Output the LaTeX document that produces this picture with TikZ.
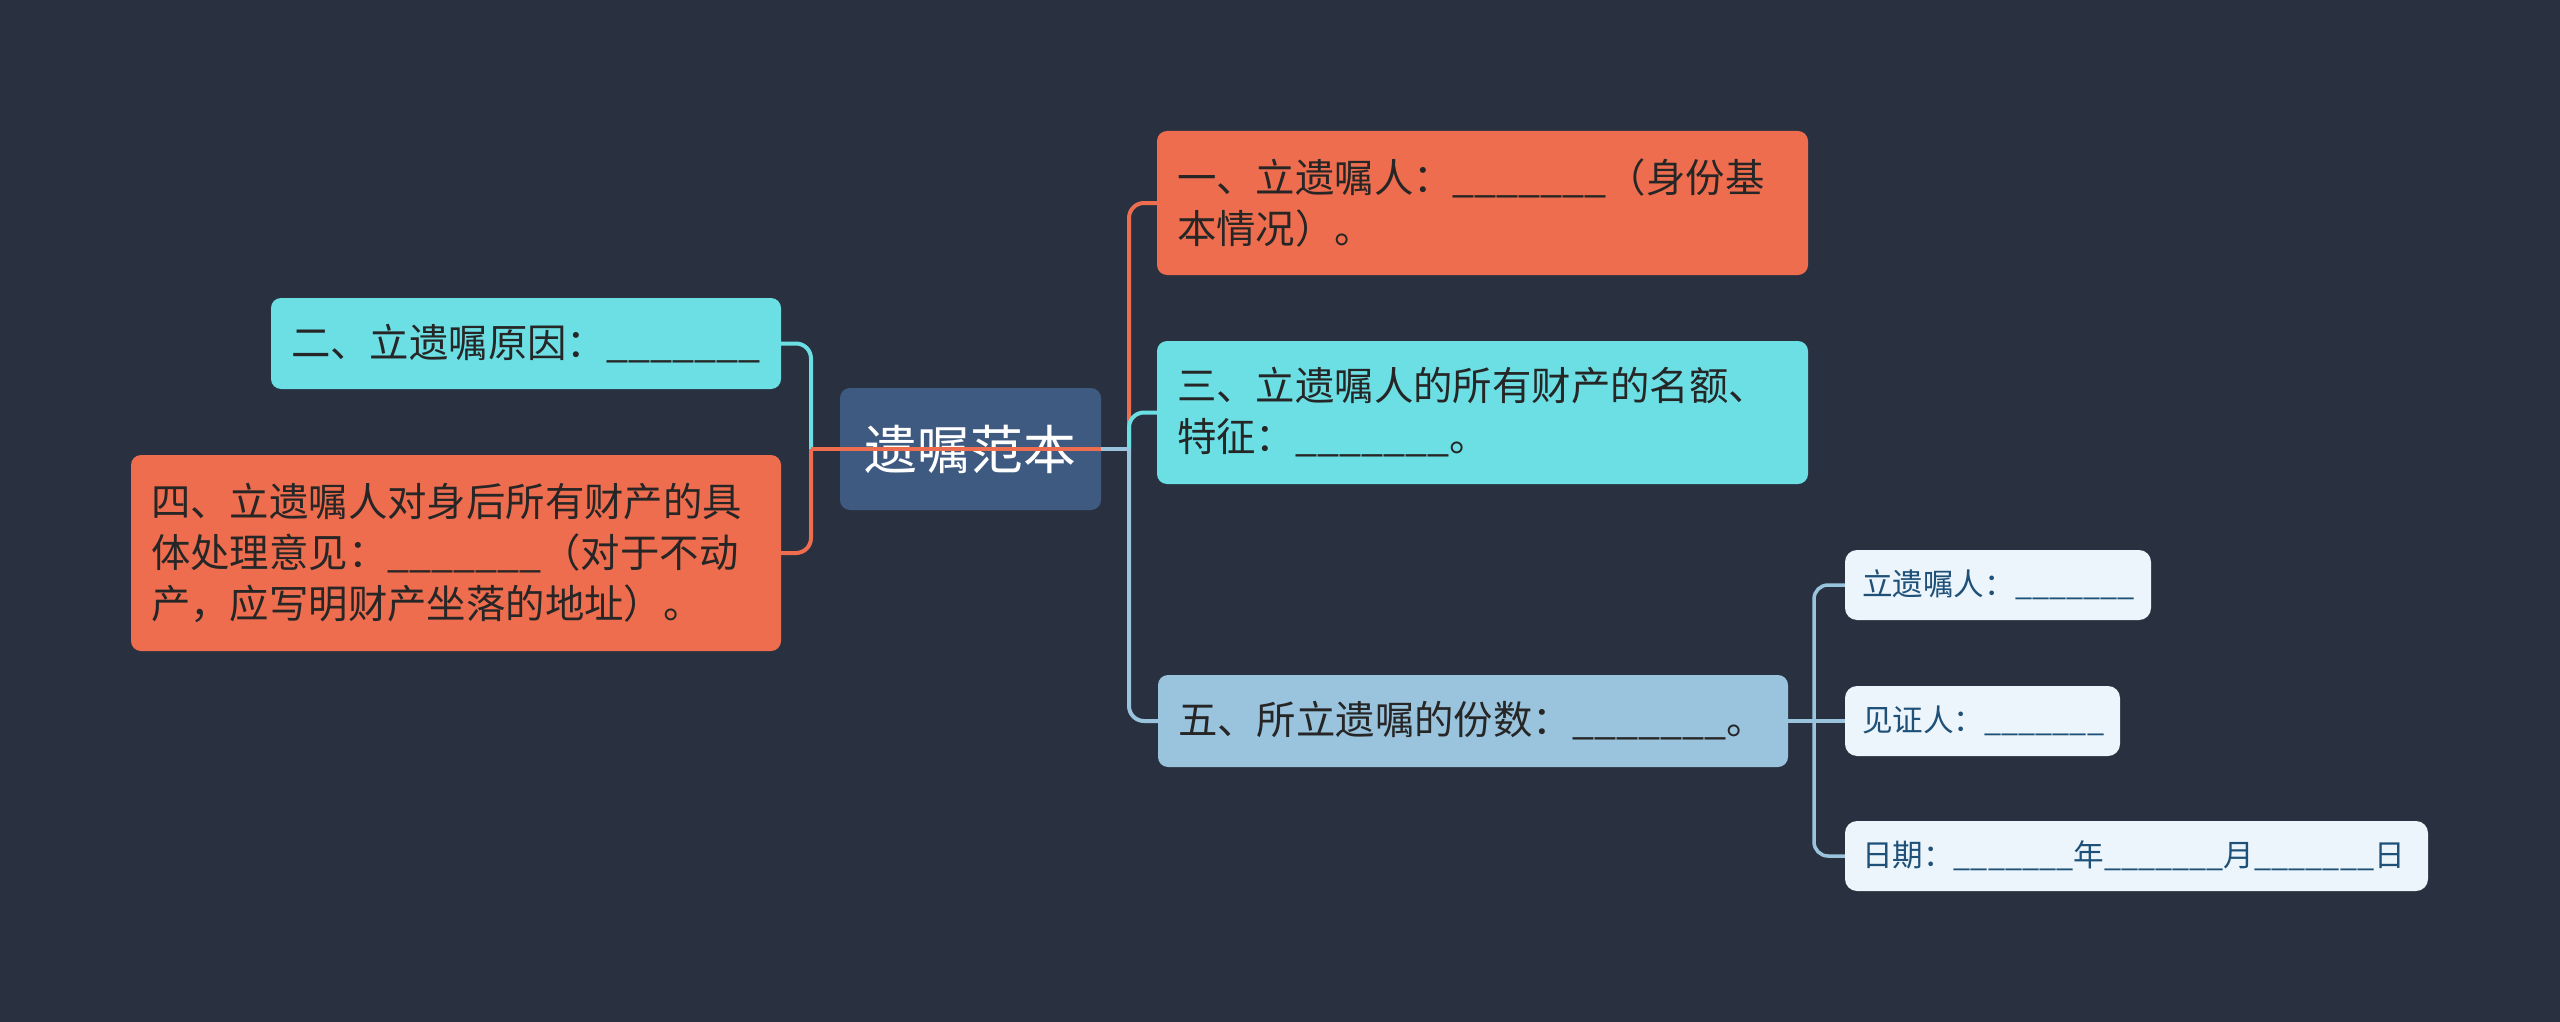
\documentclass[tikz,border=0pt]{standalone}
\usepackage{fontspec}
\setmainfont{Noto Sans CJK SC}
\definecolor{bgc}{HTML}{293140}
\definecolor{orc}{HTML}{EE6D4F}
\definecolor{cyc}{HTML}{6CDFE5}
\definecolor{rtc}{HTML}{3E5A80}
\definecolor{lbc}{HTML}{9AC3DD}
\definecolor{sbc}{HTML}{EBF5FB}
\definecolor{sbt}{HTML}{1F5078}
\definecolor{txc}{HTML}{262626}
\newcommand{\blankline}{\_\_\_\_\_\_\_}
\begin{document}
\begin{tikzpicture}[x=1pt,y=-1pt,
  mainbox/.style={rounded corners=10pt, inner xsep=20pt, inner ysep=0pt, align=left,
    text=txc, font=\fontsize{39.4}{51}\selectfont},
  subbox/.style={rounded corners=12pt, inner xsep=17pt, inner ysep=0pt, align=left,
    fill=sbc, text=sbt, minimum height=70pt, font=\fontsize{30.6}{40}\selectfont},
  rootbox/.style={rounded corners=10pt, fill=rtc, text=white, minimum width=261pt,
    minimum height=122pt, inner sep=0pt, font=\fontsize{52.8}{60}\selectfont},
  conn/.style={line width=4pt, rounded corners=15pt},
  sconn/.style={line width=3.5pt, rounded corners=14pt, draw=lbc}]
\fill[bgc] (0,0) rectangle (2560,1022);
\useasboundingbox (0,0) rectangle (2560,1022);

% nodes
\node[rootbox] (root) at (970.5,449) {遗嘱范本};
\node[mainbox, fill=cyc, text width=470pt, minimum height=91pt] (n2) at (526,343.5)
  {二、立遗嘱原因：\blankline};
\node[mainbox, fill=orc, text width=610pt, minimum height=196pt] (n4) at (456,553)
  {四、立遗嘱人对身后所有财产的具\\体处理意见：\blankline（对于不动\\产，应写明财产坐落的地址）。};
\node[mainbox, fill=orc, text width=611pt, minimum height=144pt] (n1) at (1482.5,203)
  {一、立遗嘱人：\blankline（身份基\\本情况）。};
\node[mainbox, fill=cyc, text width=611pt, minimum height=143pt] (n3) at (1482.5,412.5)
  {三、立遗嘱人的所有财产的名额、\\特征：\blankline。};
\node[mainbox, fill=lbc, text width=590pt, minimum height=92pt] (n5) at (1473,721)
  {五、所立遗嘱的份数：\blankline。};
\node[subbox, text width=272pt] (s1) at (1998,585) {立遗嘱人：\blankline};
\node[subbox, text width=241pt] (s2) at (1982.5,721) {见证人：\blankline};
\node[subbox, text width=549pt] (s3) at (2136.5,856)
  {日期：\blankline 年\blankline 月\blankline 日};

% junctions
\coordinate (jl) at (811,449);
\coordinate (jr) at (1129,449);
\coordinate (js) at (1814,721);

% left connectors
\draw[conn, draw=cyc] (jl) |- (n2.east);
\draw[conn, draw=orc] (jl) |- (n4.east);
\draw[line width=4pt, draw=orc] (root.east) -- (jl);

% right connectors
\draw[conn, draw=orc] (jr) |- (n1.west);
\draw[conn, draw=cyc] (jr) |- (n3.west);
\draw[conn, draw=lbc] (jr) |- (n5.west);
\draw[line width=4pt, draw=lbc] (root.east) -- (jr);

% sub connectors
\draw[sconn] (n5.east) -- (js);
\draw[sconn] (js) |- (s1.west);
\draw[sconn] (js) -- (s2.west);
\draw[sconn] (js) |- (s3.west);
\end{tikzpicture}
\end{document}
